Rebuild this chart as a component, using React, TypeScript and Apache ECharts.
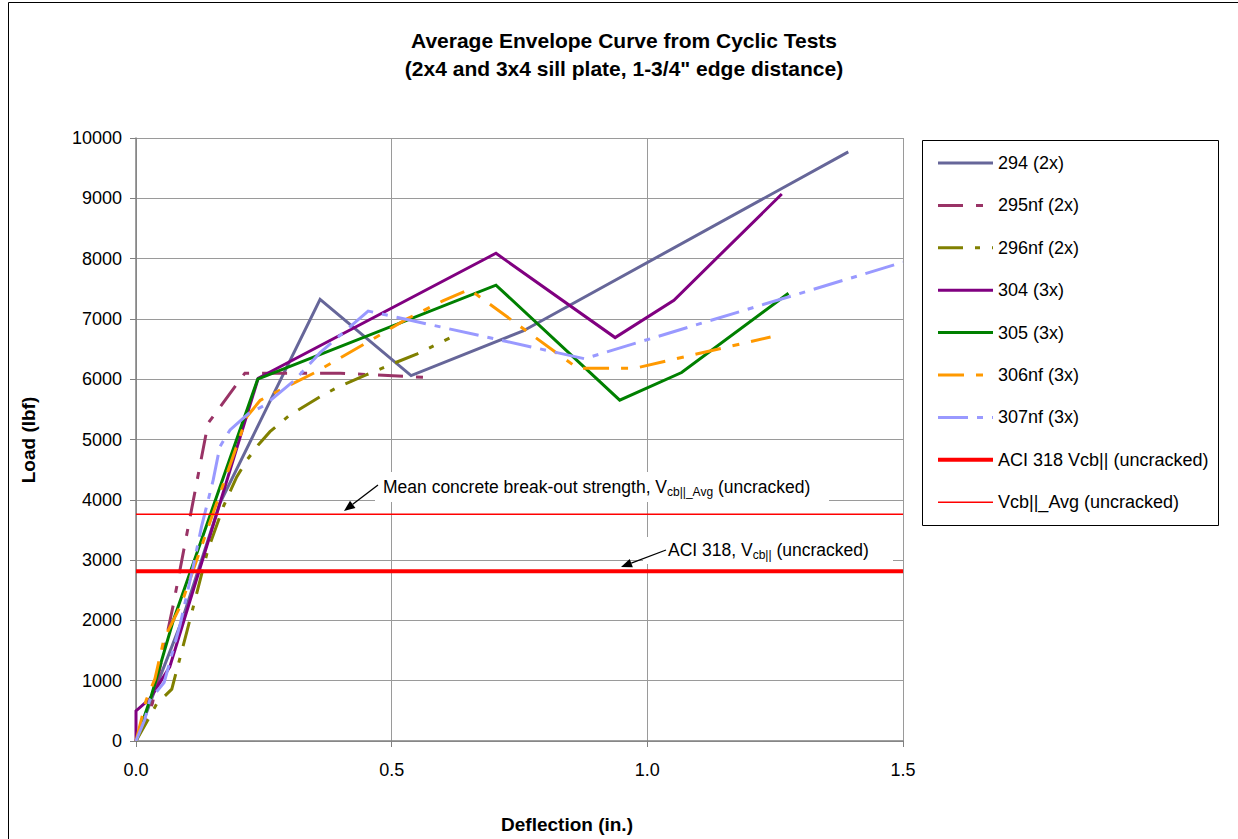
import React, { useEffect, useRef } from "react";
import * as echarts from "echarts";

// Deflection (in.), Load (lbf)
const s294: number[][] = [[0, 0], [0.035, 800], [0.09, 2000], [0.164, 3940], [0.36, 7325], [0.538, 6060], [0.757, 6800], [1.393, 9770]];
const s295nf: number[][] = [[0, 0], [0.032, 620], [0.072, 2220], [0.141, 5270], [0.213, 6100], [0.4, 6100], [0.58, 6025]];
const s296nf: number[][] = [[0, 0], [0.022, 330], [0.04, 610], [0.07, 860], [0.1, 1830], [0.14, 3150], [0.171, 3890], [0.197, 4380], [0.217, 4660], [0.239, 4910], [0.262, 5130], [0.3, 5400], [0.366, 5740], [0.4, 5890], [0.45, 6070], [0.5, 6250], [0.55, 6420], [0.613, 6680]];
const s304: number[][] = [[0, 0], [0, 500], [0.027, 700], [0.066, 1230], [0.239, 6015], [0.704, 8088], [0.937, 6690], [1.052, 7310], [1.263, 9071]];
const s305: number[][] = [[0, 0], [0.03, 750], [0.073, 2000], [0.238, 6000], [0.704, 7560], [0.946, 5652], [1.067, 6110], [1.276, 7425]];
const s306nf: number[][] = [[0, 0], [0.02, 680], [0.037, 1030], [0.055, 1700], [0.073, 2000], [0.089, 2280], [0.217, 5380], [0.243, 5650], [0.3, 5900], [0.35, 6110], [0.45, 6600], [0.53, 7000], [0.6, 7300], [0.652, 7490], [0.864, 6180], [0.975, 6180], [1.241, 6700]];
const s307nf: number[][] = [[0, 0], [0.017, 350], [0.027, 680], [0.055, 970], [0.086, 1920], [0.112, 2900], [0.128, 3550], [0.151, 4330], [0.164, 4880], [0.184, 5160], [0.22, 5430], [0.25, 5560], [0.31, 5980], [0.36, 6440], [0.454, 7130], [0.53, 6990], [0.877, 6340], [1.5, 7940]];
const aciVcb = 2815;
const avgVcb = 3760;
const xRange = [0, 1.5];
const yRange = [0, 10000];

const seriesNames = [
  "294 (2x)",
  "295nf (2x)",
  "296nf (2x)",
  "304 (3x)",
  "305 (3x)",
  "306nf (3x)",
  "307nf (3x)",
  "ACI 318 Vcb|| (uncracked)",
  "Vcb||_Avg (uncracked)",
];
const seriesColors = ["#666699", "#993366", "#808000", "#800080", "#008000", "#FF9900", "#9999FF", "#FF0000", "#FF0000"];
const seriesWidths = [3, 3, 3, 3, 3, 3, 3, 4, 1.5];
const seriesDashes: any[] = ["solid", [25, 13, 7, 13], [25, 12, 5, 12], "solid", "solid", [26, 12, 7, 12], [30, 9, 6, 9], "solid", "solid"];

const FONT = "'Liberation Sans', Arial, Helvetica, sans-serif";

function arrow(x1: number, y1: number, x2: number, y2: number) {
  const dx = x2 - x1;
  const dy = y2 - y1;
  const len = Math.sqrt(dx * dx + dy * dy);
  const ux = dx / len;
  const uy = dy / len;
  const bx = x2 - ux * 11;
  const by = y2 - uy * 11;
  const px = -uy * 4.5;
  const py = ux * 4.5;
  return [
    { type: "line", z: 10, shape: { x1, y1, x2: bx, y2: by }, style: { stroke: "#000", lineWidth: 1.3 } },
    { type: "polygon", z: 10, shape: { points: [[x2, y2], [bx + px, by + py], [bx - px, by - py]] }, style: { fill: "#000" } },
  ];
}

export default function App() {
  const ref = useRef<HTMLDivElement>(null);
  useEffect(() => {
    if (!ref.current) return;
    const chart = echarts.init(ref.current, null, { renderer: "svg" });
    const allData = [
      s294, s295nf, s296nf, s304, s305, s306nf, s307nf,
      [[xRange[0], aciVcb], [xRange[1], aciVcb]],
      [[xRange[0], avgVcb], [xRange[1], avgVcb]],
    ];
    const series = seriesNames.map((name, i) => ({
      name,
      type: "line",
      data: allData[i],
      symbol: "none",
      showSymbol: false,
      silent: true,
      itemStyle: { color: seriesColors[i] },
      lineStyle: { color: seriesColors[i], width: seriesWidths[i], type: seriesDashes[i], cap: "butt", join: "miter" },
    }));
    const option: any = {
      animation: false,
      textStyle: { fontFamily: FONT },
      grid: { left: 136, top: 138, width: 767, height: 603, containLabel: false },
      xAxis: {
        type: "value",
        min: xRange[0],
        max: xRange[1],
        interval: 0.5,
        axisLine: { show: true, onZero: false, lineStyle: { color: "#808080", width: 1.5 } },
        axisTick: { show: true, length: 6, lineStyle: { color: "#808080" } },
        axisLabel: { fontSize: 18, color: "#000", margin: 20, formatter: (v: number) => v.toFixed(1) },
        splitLine: { show: true, lineStyle: { color: "#9a9a9a", width: 1 } },
      },
      yAxis: {
        type: "value",
        min: yRange[0],
        max: yRange[1],
        interval: 1000,
        axisLine: { show: true, onZero: false, lineStyle: { color: "#808080", width: 1.5 } },
        axisTick: { show: true, length: 6, lineStyle: { color: "#808080" } },
        axisLabel: { fontSize: 18, color: "#000", margin: 14, formatter: (v: number) => String(Math.round(v)) },
        splitLine: { show: true, lineStyle: { color: "#9a9a9a", width: 1 } },
      },
      legend: {
        orient: "vertical",
        left: 936,
        top: 154,
        padding: 0,
        itemWidth: 55,
        itemHeight: 14,
        itemGap: 24.4,
        selectedMode: false,
        itemStyle: { opacity: 0 },
        textStyle: { fontSize: 18, color: "#000", fontFamily: FONT },
        data: seriesNames.map((name, i) => ({
          name,
          lineStyle: { color: seriesColors[i], width: seriesWidths[i], type: seriesDashes[i], cap: "butt" },
        })),
      },
      series,
      graphic: [
        { type: "rect", z: 0, shape: { x: 8.5, y: 2.5, width: 1400, height: 1000 }, style: { fill: "none", stroke: "#000", lineWidth: 1 } },
        { type: "rect", z: 0, shape: { x: 922.5, y: 140.5, width: 296, height: 385 }, style: { fill: "none", stroke: "#000", lineWidth: 1 } },
        {
          type: "text", z: 10, x: 624, y: 40,
          style: { text: "Average Envelope Curve from Cyclic Tests", font: `bold 21px ${FONT}`, fill: "#000", align: "center", verticalAlign: "middle" },
        },
        {
          type: "text", z: 10, x: 624, y: 68,
          style: { text: '(2x4 and 3x4 sill plate, 1-3/4" edge distance)', font: `bold 21px ${FONT}`, fill: "#000", align: "center", verticalAlign: "middle" },
        },
        {
          type: "text", z: 10, x: 28, y: 440, rotation: Math.PI / 2,
          style: { text: "Load (lbf)", font: `bold 19px ${FONT}`, fill: "#000", align: "center", verticalAlign: "middle" },
        },
        {
          type: "text", z: 10, x: 567, y: 824,
          style: { text: "Deflection (in.)", font: `bold 19px ${FONT}`, fill: "#000", align: "center", verticalAlign: "middle" },
        },
        { type: "rect", z: 1, shape: { x: 375, y: 472, width: 454, height: 30 }, style: { fill: "#fff" } },
        { type: "rect", z: 1, shape: { x: 643, y: 537, width: 250, height: 27 }, style: { fill: "#fff" } },
        {
          type: "text", z: 10, x: 383, y: 476,
          style: {
            text: "Mean concrete break-out strength, V{sub|cb||_Avg} (uncracked)",
            fontFamily: FONT, fontSize: 17.5, fill: "#000", align: "left", verticalAlign: "top",
            rich: { sub: { fontFamily: FONT, fontSize: 12, padding: [10, 0, 0, 0], fill: "#000" } },
          },
        },
        {
          type: "text", z: 10, x: 668, y: 539,
          style: {
            text: "ACI 318, V{sub|cb||} (uncracked)",
            fontFamily: FONT, fontSize: 17.5, fill: "#000", align: "left", verticalAlign: "top",
            rich: { sub: { fontFamily: FONT, fontSize: 12, padding: [10, 0, 0, 0], fill: "#000" } },
          },
        },
        ...arrow(378, 485, 344, 511),
        ...arrow(666, 550, 621, 567),
      ],
    };
    chart.setOption(option);
    return () => chart.dispose();
  }, []);
  return (
    <div
      ref={ref}
      style={{ position: "absolute", left: 0, top: 0, width: 1238, height: 839, background: "#fff" }}
    />
  );
}
